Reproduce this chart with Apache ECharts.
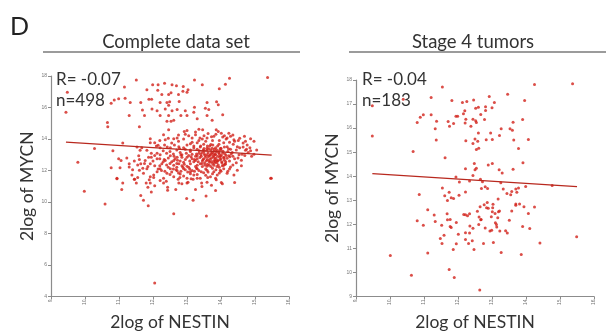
<!DOCTYPE html>
<html>
<head>
<meta charset="utf-8">
<script src="https://cdn.jsdelivr.net/npm/echarts@6/dist/echarts.min.js"></script>
<style>
  html, body { margin: 0; padding: 0; background: #fff; }
  #chart { width: 606px; height: 336px; }
</style>
</head>
<body>
<div id="chart"></div>
<script>
// 2log NESTIN vs 2log MYCN, complete data set (n=498)
const completePoints = [
  // sparse upper region
  [9.44,15.70],[9.48,16.97],[10.77,16.27],[10.86,16.48],[10.99,16.56],[11.18,16.58],[11.16,17.30],[11.51,17.75],
  [11.33,16.31],[11.30,15.50],[10.66,15.05],[10.67,14.78],[11.60,14.78],[11.64,16.31],[11.69,15.84],[11.82,17.13],
  [11.88,16.52],[11.96,16.52],[11.99,17.44],[12.15,17.44],[12.34,17.54],[12.56,17.44],[12.69,17.38],[12.89,17.34],
  [12.14,17.09],[12.26,16.83],[12.46,16.83],[12.53,16.93],[12.75,16.83],[12.88,17.03],[13.00,16.97],[13.03,17.13],
  [12.21,16.31],[12.41,16.31],[12.49,16.36],[12.77,16.38],[11.97,15.91],[12.12,15.80],[12.36,15.91],[12.46,16.15],
  [11.75,15.50],[12.21,15.50],[12.46,15.50],[12.56,15.80],[12.71,15.87],[12.82,15.50],[12.95,15.80],[12.41,15.13],
  [12.53,15.13],[12.61,15.19],[13.22,17.75],[13.45,17.44],[13.95,17.19],[14.13,17.48],[14.25,17.85],[15.37,17.91],
  [13.22,16.01],[13.20,15.70],[13.59,16.31],[13.87,16.36],[13.92,16.17],[13.54,15.95],[13.64,15.87],[13.30,15.29],
  [13.59,15.50],[13.74,15.19],[14.05,15.54],[13.00,15.50],[12.92,14.47],[13.00,14.54],[12.46,14.58],[12.71,14.07],
  [10.28,13.39],[9.79,12.53],
  // upper edge of main cluster
  [13.35,14.62],[13.46,14.58],[13.86,14.58],[13.92,14.47],[14.01,14.37],[14.23,14.37],[14.28,14.17],[14.10,14.21],
  [13.79,14.17],[13.59,14.07],[13.38,14.07],[13.25,14.27],[13.15,14.07],[12.61,14.02],[12.36,13.96],[11.92,14.02],
  [12.31,14.27],[14.69,14.17],[14.87,14.02],[14.72,13.86],[14.97,13.86],[14.51,13.90],[14.38,13.96],[14.18,14.07],
  [13.62,14.35],[13.72,14.15],[13.85,14.30],[14.05,14.12],[14.35,14.25],[14.55,14.05],[13.25,14.45],[12.95,14.30],
  [12.75,14.25],[13.50,14.20],
  [11.11,13.74],[11.53,13.49],[11.67,13.45],[11.92,13.76],[12.05,13.76],[12.10,13.55],[12.21,13.45],[12.34,13.62],
  [12.51,13.45],[12.63,13.62],[12.76,13.51],[12.90,13.45],[13.00,13.62],[13.10,13.70],[13.20,13.55],[13.30,13.76],
  [13.39,13.49],[13.49,13.66],[13.59,13.41],[13.67,13.55],[13.76,13.62],[13.84,13.45],[13.94,13.66],[14.00,13.41],
  [14.08,13.76],[14.18,13.51],[14.28,13.35],[14.36,13.66],[14.48,13.51],[14.65,13.49],[14.77,13.62],[14.85,13.45],
  [10.82,13.25],[11.62,13.29],[11.82,13.29],
  // dense core
  [10.99,12.74],[11.06,12.63],[11.23,12.80],[11.30,12.43],[11.58,12.94],[11.64,12.43],[11.77,12.63],[11.87,12.84],
  [11.92,12.43],[12.12,12.74],[12.21,13.00],[12.26,12.43],[12.36,12.63],[12.51,12.94],[12.61,12.63],[12.71,12.84],
  [12.76,12.43],[12.85,13.00],[12.90,12.53],[13.00,12.84],[13.10,12.43],[13.15,13.04],[13.25,12.63],[13.30,12.94],
  [13.39,12.43],[13.44,13.15],[13.49,12.74],[13.59,13.00],[13.67,12.53],[13.74,13.15],[13.79,12.84],[13.84,13.04],
  [13.89,12.63],[13.94,13.25],[13.98,12.94],[14.08,12.84],[14.13,12.43],[14.23,12.94],[14.33,13.15],[14.40,12.74],
  [14.53,13.00],[14.62,13.04],[14.72,13.29],[14.87,13.25],[14.97,13.04],[14.08,12.33],[13.79,12.33],[13.59,12.27],
  [13.30,12.33],[13.00,12.27],[12.61,12.33],
  [13.35,13.10],[13.42,12.90],[13.50,13.20],[13.55,12.85],[13.62,13.12],[13.66,12.95],[13.70,13.30],[13.72,12.80],
  [13.78,13.05],[13.82,12.70],[13.86,13.20],[13.90,12.90],[13.95,13.05],[14.00,12.75],[14.05,13.10],[13.45,12.60],
  [13.52,12.50],[13.60,12.70],[13.65,12.60],[13.75,12.45],[13.80,12.60],[13.88,12.50],[13.92,12.35],[14.02,12.55],
  [14.10,12.65],[13.30,12.75],[13.25,12.90],[13.20,12.55],[13.15,12.75],[13.10,13.20],[13.05,12.95],[12.95,12.70],
  [12.85,12.85],[12.80,12.60],[12.70,12.45],[12.65,12.75],[12.55,12.55],[12.45,12.80],[12.40,12.35],[12.30,12.55],
  [12.20,12.30],[12.15,12.10],[12.60,12.10],[12.70,12.20],[12.85,12.30],[12.95,12.05],[13.05,12.20],[13.15,12.00],
  [13.25,12.25],[13.35,12.00],[13.45,12.25],[13.55,12.10],[13.65,12.35],[13.75,12.15],[13.85,12.05],[13.95,12.20],
  [14.15,12.95],[14.20,13.20],[14.25,12.60],[14.35,12.90],[14.45,13.30],[14.50,12.80],[14.55,13.45],[14.60,12.65],
  [14.70,12.95],[14.80,13.15],[14.90,12.90],[13.40,13.55],[13.50,13.40],[13.60,13.55],[13.70,13.65],[13.80,13.35],
  [13.90,13.55],[14.00,13.30],[14.10,13.50],[13.30,13.35],[13.20,13.45],[13.10,13.30],[12.95,13.35],[12.80,13.15],
  [12.70,13.30],[12.60,13.05],[12.50,13.20],[12.40,13.10],[12.30,13.25],[12.20,12.75],[12.05,12.95],[11.95,13.10],
  [12.00,12.60],[11.85,12.25],[11.70,12.15],[11.55,12.35],[11.45,12.60],[11.40,12.05],[12.35,11.95],[12.50,11.75],
  [12.75,11.85],[12.90,11.65],[13.10,11.80],[13.30,11.75],[13.55,11.70],[13.75,11.80],[13.95,11.85],[14.20,11.95],
  [14.35,12.35],[14.60,12.30],[14.75,13.35],[15.05,13.30],[14.65,13.75],[14.40,13.85],[14.25,13.80],[14.15,14.00],
  [13.95,13.90],[13.75,13.90],[13.55,13.85],[13.45,14.00],[13.35,13.90],[13.15,13.80],[13.05,14.20],[12.90,14.00],
  [12.75,13.85],[12.55,13.75],[12.45,14.05],[12.20,13.90],
  [13.33,12.55],[13.38,12.82],[13.41,13.02],[13.47,12.68],[13.48,13.30],[13.53,12.95],[13.57,12.62],[13.58,13.28],
  [13.63,12.88],[13.64,13.38],[13.68,12.72],[13.71,13.08],[13.73,12.58],[13.77,12.92],[13.79,13.22],[13.81,12.48],
  [13.83,13.00],[13.85,12.78],[13.87,13.32],[13.91,12.62],[13.93,13.12],[13.96,12.85],[13.98,13.40],[14.01,12.95],
  [14.03,12.48],[14.06,13.22],[14.09,12.80],[14.12,13.05],[14.14,12.55],[14.18,12.78],[14.22,13.38],[14.26,12.88],
  [14.30,13.05],[13.36,13.25],[13.44,12.45],[13.51,13.05],[13.60,12.40],[13.69,12.98],[13.74,13.42],[13.84,12.58],
  [13.97,12.68],[14.04,12.30],[13.28,13.05],[13.22,12.70],[13.12,12.88],[13.08,12.60],[12.98,13.10],[12.92,12.40],
  [12.82,12.98],[12.72,12.65],
  [12.05,12.30],[12.25,12.00],[12.45,12.20],[12.55,11.90],[12.68,12.05],[12.82,11.95],[12.88,12.20],[13.02,11.90],
  [13.08,12.10],[13.22,11.95],[13.28,12.15],[13.42,11.92],[13.52,12.35],[13.62,11.90],[13.70,12.25],[13.88,12.25],
  [14.00,11.95],[14.12,12.40],[14.25,12.10],[14.45,12.50],[11.75,12.45],[11.60,12.70],[11.95,12.85],[12.12,13.10],
  [12.33,12.70],[12.50,12.45],[12.62,12.90],[12.78,13.40],[12.42,13.50],[12.15,13.60],
  // lower part of cluster
  [10.77,12.18],[11.03,12.18],[11.30,12.23],[11.45,11.45],[11.60,12.02],[11.72,11.82],[11.82,12.12],[11.92,11.61],
  [12.02,11.71],[12.12,11.92],[12.21,12.12],[12.31,11.51],[12.41,11.82],[12.51,12.12],[12.61,11.61],[12.71,11.98],
  [12.80,11.78],[12.90,12.12],[13.00,11.51],[13.10,11.92],[13.20,11.71],[13.30,12.12],[13.39,11.51],[13.49,11.86],
  [13.59,12.02],[13.69,11.61],[13.79,11.92],[13.89,11.71],[13.98,12.02],[14.08,12.12],[14.18,11.82],[14.28,12.23],
  [14.38,11.71],[14.48,12.02],[15.46,11.51],[10.94,11.51],[11.38,11.71],
  [9.98,10.69],[10.59,9.87],[10.94,11.47],[11.11,11.20],[11.08,10.79],[11.46,11.45],[11.55,11.55],[11.51,11.20],
  [11.64,10.42],[11.72,10.12],[11.86,9.77],[11.80,11.20],[11.92,11.20],[11.85,10.94],[11.89,11.41],[11.95,10.63],
  [12.02,11.55],[12.05,11.04],[12.21,11.36],[12.31,11.20],[12.39,11.32],[12.43,10.94],[12.43,10.75],[12.67,10.79],
  [12.74,11.45],[12.76,11.20],[12.79,11.55],[12.85,11.16],[12.99,10.22],[13.00,11.20],[13.03,11.26],[13.12,11.47],
  [13.18,11.45],[13.18,10.12],[13.25,10.79],[13.30,11.51],[13.43,11.20],[13.44,10.98],[13.56,10.38],[13.59,11.26],
  [13.61,11.55],[13.72,11.06],[13.84,11.51],[13.86,11.41],[13.84,10.73],[14.01,11.24],[14.04,11.16],[14.40,11.24],
  [15.48,11.51],[12.61,9.26],[13.57,9.11],[12.05,4.86]
];

// stage 4 tumors (n=183)
const stage4Points = [
  [9.48,16.93],[9.48,15.67],[10.39,17.20],[11.54,17.71],[11.21,17.27],[11.82,17.15],[12.13,17.07],[12.26,17.11],
  [12.46,17.17],[12.92,17.31],[13.07,17.07],[13.46,17.41],[13.96,17.15],[14.25,17.81],[15.37,17.84],[10.98,16.56],
  [10.89,16.45],[10.80,16.23],[11.21,16.56],[11.37,16.29],[11.71,16.27],[11.75,16.08],[11.87,16.19],[11.94,16.49],
  [11.99,16.49],[12.20,16.72],[12.16,16.60],[12.23,16.37],[12.21,16.21],[12.38,16.08],[12.44,16.37],[12.52,16.31],
  [12.54,16.23],[12.52,16.83],[12.60,16.87],[12.67,16.57],[12.78,16.36],[12.81,16.73],[12.81,16.89],[13.00,16.85],
  [11.33,15.97],[11.36,15.51],[12.23,15.47],[12.44,15.36],[12.50,15.55],[12.58,15.45],[12.60,15.80],[12.54,15.11],
  [12.61,15.16],[12.83,15.52],[12.96,15.80],[13.01,15.53],[13.22,15.69],[13.27,15.97],[13.53,15.97],[13.60,15.91],
  [13.62,16.24],[13.64,15.51],[13.90,16.36],[14.07,15.53],[13.78,15.15],[10.68,15.03],[11.62,14.77],[12.48,14.53],
  [12.89,14.47],[13.01,14.53],[13.91,14.56],[12.22,14.31],[12.50,14.27],[12.54,14.33],[13.21,14.27],[13.30,14.13],
  [13.62,14.29],[12.44,14.03],[11.94,13.97],[12.04,13.76],[12.34,13.80],[12.66,13.87],[12.72,13.77],[13.26,13.73],
  [11.54,13.51],[11.74,13.33],[12.22,13.35],[12.69,13.49],[12.80,13.56],[12.87,13.49],[13.33,13.47],[13.44,13.28],
  [13.55,13.23],[13.58,13.37],[13.70,13.47],[13.78,13.51],[13.73,13.33],[13.99,13.57],[14.77,13.61],[10.86,13.24],
  [11.61,13.19],[11.69,12.99],[11.80,13.11],[11.87,13.07],[12.03,13.21],[13.18,13.05],[12.86,12.91],[13.03,12.84],
  [12.77,12.81],[12.65,12.73],[12.89,12.67],[12.84,12.69],[13.02,12.69],[12.57,12.55],[13.01,12.52],[13.09,12.45],
  [13.22,12.56],[13.19,12.52],[13.58,12.56],[13.70,12.85],[13.81,12.85],[13.70,12.79],[13.94,12.73],[14.07,12.45],
  [14.25,12.72],[11.11,12.61],[11.30,12.39],[11.68,12.44],[12.17,12.41],[12.22,12.40],[12.28,12.36],[12.34,12.44],
  [12.62,12.31],[12.67,12.19],[12.98,12.32],[13.17,12.27],[13.10,12.07],[13.13,11.99],[13.14,11.89],[13.51,12.17],
  [10.80,12.15],[10.98,11.96],[11.33,12.12],[11.52,11.96],[11.69,12.19],[11.77,12.20],[11.77,11.91],[11.80,11.87],
  [11.95,12.08],[12.35,11.93],[12.44,11.84],[12.61,11.99],[12.68,12.20],[12.80,11.85],[12.94,11.72],[12.99,11.75],
  [13.23,11.72],[13.40,11.73],[13.45,11.64],[13.90,11.91],[14.11,11.83],[11.59,11.55],[11.48,11.41],[11.53,11.20],
  [12.01,11.59],[12.22,11.65],[12.34,11.64],[12.22,11.37],[12.31,11.20],[12.42,11.32],[11.95,11.19],[11.86,10.96],
  [12.47,10.95],[12.75,11.20],[13.04,11.25],[13.27,10.83],[13.86,10.75],[14.41,11.23],[15.49,11.49],[10.01,10.71],
  [11.11,10.81],[10.63,9.89],[11.74,10.12],[11.89,9.79],[12.64,9.27]
];

// regression line ends [NESTIN, MYCN]
const completeFit = [[9.44, 13.80], [15.49, 12.98]];
const stage4Fit = [[9.48, 14.11], [15.50, 13.57]];

const xTicksMin = 9, xTicksMax = 16;
const panelTitles = ['Complete data set', 'Stage 4 tumors'];
const statsText = [['R= -0.07', 'n=498'], ['R= -0.04', 'n=183']];

const dotColor = '#d2221a';
const lineColor = '#b8281e';
const axisGray = '#8c8c8c';
const font = 'Lato, "Open Sans", sans-serif';

const chart = echarts.init(document.getElementById('chart'), null, { renderer: 'canvas' });

function xAxisCfg(gridIndex) {
  return {
    gridIndex,
    type: 'value',
    min: xTicksMin,
    max: xTicksMax,
    interval: 1,
    name: '2log of NESTIN',
    nameLocation: 'middle',
    nameGap: 13,
    nameTextStyle: { fontFamily: font, fontSize: 17.5, color: '#333' },
    axisLine: { lineStyle: { color: axisGray, width: 1.2 } },
    axisTick: { length: 3, lineStyle: { color: axisGray } },
    axisLabel: { fontSize: 5, color: '#777', rotate: 90, margin: 3 },
    splitLine: { show: false }
  };
}

function yAxisCfg(gridIndex, min, max, interval) {
  return {
    gridIndex,
    type: 'value',
    min, max, interval,
    name: '2log of MYCN',
    nameLocation: 'middle',
    nameGap: 15,
    nameTextStyle: { fontFamily: font, fontSize: 17.5, color: '#333' },
    axisLine: { show: true, lineStyle: { color: axisGray, width: 1.2 } },
    axisTick: { show: true, length: 3, lineStyle: { color: axisGray } },
    axisLabel: { fontSize: 5, color: '#777', margin: 4 },
    splitLine: { show: false }
  };
}

function titleGraphics(cx, lineX1, lineX2, text) {
  return [
    { type: 'text', x: cx, y: 42, style: { text, fontFamily: font, fontSize: 18.5, fill: '#333', align: 'center', verticalAlign: 'middle' } },
    { type: 'line', shape: { x1: lineX1, y1: 52, x2: lineX2, y2: 52 }, style: { stroke: '#7a7a7a', lineWidth: 1.5 } }
  ];
}

function statsGraphics(x, lines) {
  return [
    { type: 'text', x, y: 80, style: { text: lines[0], fontFamily: font, fontSize: 17, fill: '#333', verticalAlign: 'middle' } },
    { type: 'text', x, y: 101, style: { text: lines[1], fontFamily: font, fontSize: 17, fill: '#333', verticalAlign: 'middle' } }
  ];
}

const option = {
  animation: false,
  backgroundColor: '#fff',
  grid: [
    { left: 51, top: 76, width: 238, height: 228 },
    { left: 356, top: 80, width: 238, height: 225 }
  ],
  xAxis: [xAxisCfg(0), xAxisCfg(1)],
  yAxis: [yAxisCfg(0, 4, 18, 2), yAxisCfg(1, 9, 18, 1)],
  graphic: [
    { type: 'text', x: 10, y: 27, style: { text: 'D', fontFamily: font, fontSize: 25, fill: '#222', verticalAlign: 'middle' } },
    ...titleGraphics(176, 43, 300, panelTitles[0]),
    ...titleGraphics(473, 349, 606, panelTitles[1]),
    ...statsGraphics(56, statsText[0]),
    ...statsGraphics(362, statsText[1])
  ],
  series: [
    {
      type: 'scatter', xAxisIndex: 0, yAxisIndex: 0,
      symbolSize: 3, itemStyle: { color: dotColor },
      data: completePoints
    },
    {
      type: 'line', xAxisIndex: 0, yAxisIndex: 0,
      showSymbol: false, silent: true,
      lineStyle: { color: lineColor, width: 1.1 },
      data: completeFit
    },
    {
      type: 'scatter', xAxisIndex: 1, yAxisIndex: 1,
      symbolSize: 3, itemStyle: { color: dotColor },
      data: stage4Points
    },
    {
      type: 'line', xAxisIndex: 1, yAxisIndex: 1,
      showSymbol: false, silent: true,
      lineStyle: { color: lineColor, width: 1.1 },
      data: stage4Fit
    }
  ]
};

chart.setOption(option);
window.addEventListener('resize', () => chart.resize());
</script>
</body>
</html>
